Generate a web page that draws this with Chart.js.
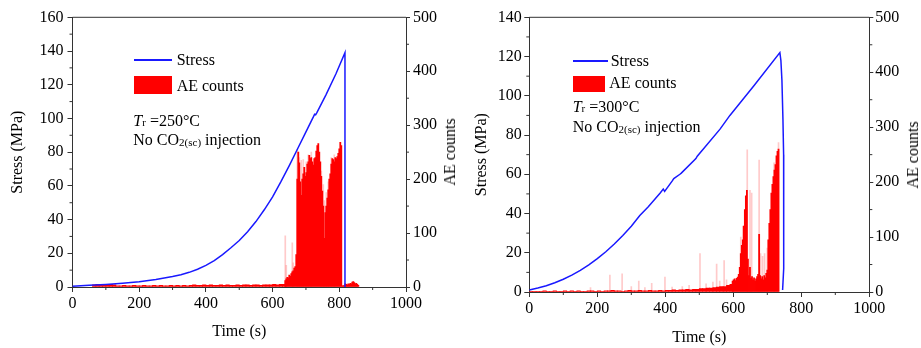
<!DOCTYPE html>
<html><head><meta charset="utf-8">
<script src="https://cdn.jsdelivr.net/npm/chart.js@4.4.1/dist/chart.umd.min.js"></script>
<style>
html,body{margin:0;padding:0;background:#fff;}
#wrap{position:relative;width:921px;height:348px;overflow:hidden;font-family:'Liberation Serif','Times New Roman',serif;color:#000;}
canvas{position:absolute;top:0;}
.t{position:absolute;font-size:16px;line-height:16px;white-space:nowrap;}
.sub{font-size:11px;}
.sub2{font-size:11px;position:relative;top:1px;}
.ln{position:absolute;height:1.5px;background:rgb(25,25,255);}
.bx{position:absolute;background:#ff0000;}
.rt{position:absolute;font-size:16px;line-height:16px;white-space:nowrap;transform:translate(-50%,-50%) rotate(-90deg);}
</style></head>
<body><div id="wrap">
<canvas id="cL" width="460" height="348" style="left:0"></canvas>
<canvas id="cR" width="461" height="348" style="left:460px"></canvas>

<div class="ln" style="left:134px;top:59px;width:37.5px"></div>
<div class="t" style="left:176.7px;top:52px">Stress</div>
<div class="bx" style="left:134.3px;top:76px;width:37.4px;height:18px"></div>
<div class="t" style="left:176.7px;top:77.7px">AE counts</div>
<div class="t" style="left:133.3px;top:113px"><i>T</i><span class="sub">r</span> =250°C</div>
<div class="t" style="left:133.3px;top:132px">No CO<span class="sub2">2(sc)</span> injection</div>
<div class="rt" style="left:450px;top:152px">AE counts</div>

<div class="ln" style="left:572.7px;top:60px;width:35.6px"></div>
<div class="t" style="left:610.7px;top:53px">Stress</div>
<div class="bx" style="left:572.7px;top:76px;width:32.3px;height:15.7px"></div>
<div class="t" style="left:609.3px;top:75.3px">AE counts</div>
<div class="t" style="left:572.7px;top:98.7px"><i>T</i><span class="sub">r</span> =300°C</div>
<div class="t" style="left:572.7px;top:119.3px">No CO<span class="sub2">2(sc)</span> injection</div>
<div class="rt" style="left:913px;top:155px">AE counts</div>
</div>
<script>
// ---------- tick labels ----------
const timeTicks = [0, 200, 400, 600, 800, 1000];
const stressTicksL = [0, 20, 40, 60, 80, 100, 120, 140, 160];
const stressTicksR = [0, 20, 40, 60, 80, 100, 120, 140];
const aeTicks = [0, 100, 200, 300, 400, 500];

// ---------- left panel (Tr = 250 °C) ----------
const stressTimeL = [0,50,100,150,200,250,300,325,350,375,400,425,450,475,500,525,550,575,600,625,650,675,700,720,723,726,729,732,760,790,817,817];
const stressValL  = [0.5,1.0,1.5,2.2,3.1,4.4,6.2,7.3,8.7,10.5,12.8,15.7,19.2,23.3,27.6,32.8,38.8,45.8,53.5,62.5,72,82,92,100,101.2,102.5,102.2,103.2,114,126.5,139,0];

const aeQuietTimeL = [65,75,85,95,105,115,125,135,145,155,165,175,185,195,205,215,225,235,245,255,265,275,285,295,305,315,325,335,345,355,365,375,385,395,405,415,425,435,445,455,465,475,485,495,505,515,525,535,545,555,565,575,585,595,605,615,625,635];
const aeQuietL     = [4,5,4,5,4,5,4,2,2,3,2,2,3,2,2,3,2,2,3,2,3,2,2,3,2,3,2,3,2,3,4,3,3,4,3,4,3,3,4,3,4,3,3,4,3,4,4,3,4,4,3,4,4,4,5,4,5,5];

const aeTimeL = [638,641,644,647,650,653,656,659,662,665,668,671,674,677,680,683,686,689,692,695,698,701,704,707,710,713,716,719,722,725,728,731,734,737,740,743,746,749,752,755,758,761,764,767,770,773,776,779,782,785,788,791,794,797,800,803,806,809,812,815,818,821,824,827,830,833,836,839,842,845,848,851,854,857];
const aeCountL = [12,15,18,17,22,20,25,28,30,35,38,60,200,250,230,195,170,200,210,222,205,212,228,232,244,238,240,232,226,238,240,252,262,266,250,232,205,178,150,90,138,150,165,180,200,210,228,238,236,232,240,238,242,248,256,268,262,2,2,3,6,5,4,6,5,7,6,9,10,8,6,7,5,3];

const aePeakTimeL = [638,641,659,662,674,680,686,692,701,707,716,746,752,755,761,767,776,785];
const aePeakL     = [95,40,82,45,255,240,235,236,232,245,250,215,190,160,175,195,240,245];

// ---------- right panel (Tr = 300 °C) ----------
const stressTimeR = [0,25,50,75,100,125,150,175,200,225,250,275,300,325,350,385,394,398,420,425,443,447,490,494,561,590,660,737,740,743,746,748,749,749,748,747,745];
const stressValR  = [1,2,3.2,4.7,6.5,8.6,11,13.8,17,20.5,24.5,28.8,33.5,39,43.5,50.5,52.5,51.3,56.5,57.8,60,60.6,68,69.2,83,90,105,122,118,108,88,70,55,40,25,12,1];

const aeQuietTimeR = [5,15,25,35,45,55,65,75,85,95,105,115,125,135,145,155,165,175,185,195,205,215,225,235,245,255,265,275,285,295,305,315,325,335,345,355,365,375,385,395,405,415,425,435,445,455,465,475,485,495,505,515,525,535,545,555,565,575,585,595];
const aeQuietR     = [1,1,1,1,2,1,1,2,1,1,2,1,2,1,2,1,1,2,2,1,2,1,2,2,3,2,2,1,2,3,2,2,3,2,2,3,2,2,3,2,3,3,4,3,4,4,5,4,5,5,6,6,7,7,8,9,10,10,12,14];

const aeTimeR = [598,601,604,607,610,613,616,619,622,625,628,631,634,637,640,643,646,649,652,655,658,661,664,667,670,673,676,679,682,685,688,691,694,697,700,703,706,709,712,715,718,721,724,727,730,733];
const aeCountR = [20,22,24,21,25,27,32,45,70,85,95,120,150,175,185,60,30,45,25,28,22,26,20,24,28,32,105,30,24,28,22,30,26,34,40,95,125,150,180,196,210,222,232,248,256,260];

const aePeakTimeR = [180,237,273,300,322,340,360,399,420,450,470,502,520,540,551,560,573,580,622,628,641,649,654,676,680,686,692,700,720,733];
const aePeakR     = [8,31,33,10,20,8,16,27,9,10,12,70,15,18,51,20,57,22,100,120,259,185,180,240,70,65,70,80,235,272];

// ---------- styling ----------
const FONT = {family: "'Liberation Serif','Times New Roman',serif", size: 16};
const AXIS = '#333';
const BLUE = 'rgb(25,25,255)';
const RED = '#ff0000';
const LIGHT = 'rgba(255,80,80,0.3)';

function pts(xs, ys) { return xs.map((x, i) => ({x: x, y: ys[i]})); }
function fixTicks(arr) { return s => { s.ticks = arr.map(v => ({value: v})); }; }
const plain = v => String(v);

const framePlugin = {
  id: 'frameMinor',
  afterDraw(chart, args, o) {
    const {ctx, chartArea: a} = chart;
    ctx.save();
    ctx.strokeStyle = AXIS; ctx.lineWidth = 1;
    ctx.beginPath(); ctx.moveTo(a.left, a.top); ctx.lineTo(a.right, a.top); ctx.stroke();
    for (const m of o.minor) {
      const s = chart.scales[m.id];
      ctx.beginPath();
      for (let v = s.min + m.step; v < s.max; v += 2 * m.step) {
        const p = s.getPixelForValue(v);
        if (m.id === 'x') { ctx.moveTo(p, a.bottom); ctx.lineTo(p, a.bottom + m.len); }
        else if (m.id === 'y') { ctx.moveTo(a.left, p); ctx.lineTo(a.left - m.len, p); }
        else { ctx.moveTo(a.right, p); ctx.lineTo(a.right + m.len, p); }
      }
      ctx.stroke();
    }
    ctx.restore();
  }
};

function build(id, g) {
  new Chart(document.getElementById(id), {
    type: 'bar',
    data: {
      datasets: [
        {type: 'line', label: 'Stress', data: pts(g.sT, g.sV), yAxisID: 'y', borderColor: BLUE, borderWidth: 1.5, pointRadius: 0, tension: 0, fill: false},
        {type: 'bar', label: 'AE counts', data: pts(g.aT, g.aV), yAxisID: 'y2', backgroundColor: RED, borderWidth: 0, grouped: false, barThickness: 1.15},
        {type: 'bar', label: 'AE base', data: pts(g.qT, g.qV), yAxisID: 'y2', backgroundColor: RED, borderWidth: 0, grouped: false, barThickness: 3.5},
        {type: 'bar', label: 'AE peaks', data: pts(g.pT, g.pV), yAxisID: 'y2', backgroundColor: LIGHT, borderWidth: 0, grouped: false, barThickness: 1}
      ]
    },
    options: {
      responsive: false, animation: false, devicePixelRatio: 1,
      layout: {padding: {top: 17.3, left: 0, right: 0, bottom: 0}},
      plugins: {legend: {display: false}, tooltip: {enabled: false}, frameMinor: {minor: [
        {id: 'x', step: 100, len: 3}, {id: 'y', step: g.yStep / 2, len: 3}, {id: 'y2', step: 50, len: 3}]}},
      scales: {
        x: {type: 'linear', position: 'bottom', min: 0, max: 1000, offset: false,
            afterBuildTicks: fixTicks(timeTicks), afterFit: s => { s.height = g.xH; },
            grid: {display: true, drawOnChartArea: false, drawTicks: true, tickLength: 5, color: AXIS, offset: false},
            border: {display: true, color: AXIS, width: 1},
            ticks: {font: FONT, color: '#000', padding: g.xPad, maxRotation: 0, autoSkip: false, callback: plain},
            title: {display: true, text: 'Time (s)', font: FONT, color: '#000', padding: {top: 0, bottom: g.xTitlePad}}},
        y: {type: 'linear', position: 'left', min: 0, max: g.yMax,
            afterBuildTicks: fixTicks(g.yTicks), afterFit: s => { s.width = g.yW; },
            grid: {display: true, drawOnChartArea: false, drawTicks: true, tickLength: 5, color: AXIS},
            border: {display: true, color: AXIS, width: 1},
            ticks: {font: FONT, color: '#000', padding: g.yPad, autoSkip: false, callback: plain},
            title: {display: true, text: 'Stress (MPa)', font: FONT, color: '#000', padding: {top: g.yTitlePad, bottom: 0}}},
        y2: {type: 'linear', position: 'right', min: 0, max: 500,
            afterBuildTicks: fixTicks(aeTicks), afterFit: s => { s.width = g.y2W; },
            grid: {display: true, drawOnChartArea: false, drawTicks: true, tickLength: 4, color: AXIS},
            border: {display: true, color: AXIS, width: 1},
            ticks: {font: FONT, color: '#000', padding: g.y2Pad, autoSkip: false, callback: plain},
            title: {display: false}}
      }
    },
    plugins: [framePlugin]
  });
}

build('cL', {sT: stressTimeL, sV: stressValL, aT: aeTimeL, aV: aeCountL, qT: aeQuietTimeL, qV: aeQuietL, pT: aePeakTimeL, pV: aePeakL,
  yMax: 160, yTicks: stressTicksL, yStep: 20, xH: 61, yW: 72.5, y2W: 54, xPad: 2.5, xTitlePad: 6.4, yPad: 4, yTitlePad: 8.4, y2Pad: 3});
build('cR', {sT: stressTimeR, sV: stressValR, aT: aeTimeR, aV: aeCountR, qT: aeQuietTimeR, qV: aeQuietR, pT: aePeakTimeR, pV: aePeakR,
  yMax: 140, yTicks: stressTicksR, yStep: 20, xH: 56, yW: 69.3, y2W: 51.7, xPad: 2.4, xTitlePad: 0.6, yPad: 2.6, yTitlePad: 12.4, y2Pad: 2});
</script>
</body></html>
